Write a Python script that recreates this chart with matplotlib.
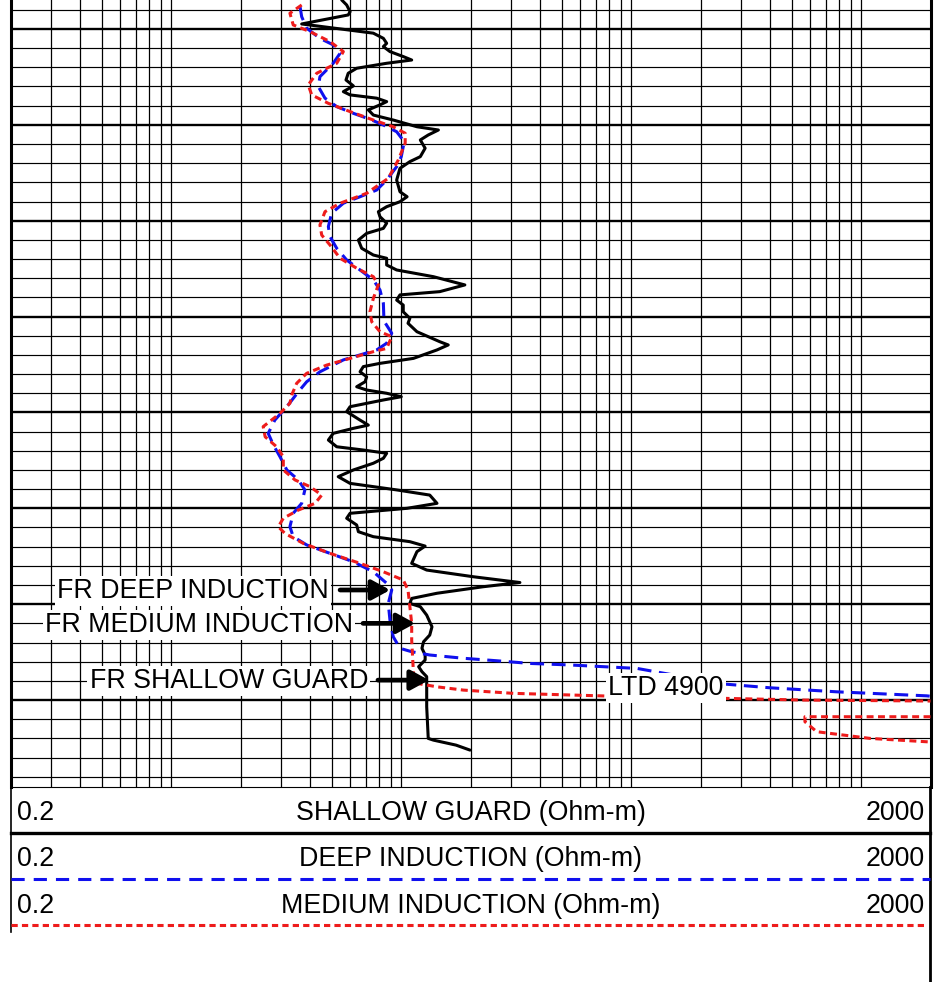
import matplotlib.pyplot as plt

plt.rcParams['font.family'] = ['Liberation Sans', 'DejaVu Sans']
plt.rcParams['lines.scale_dashes'] = False

# scale of the resistivity track (Ohm-m)
scale_left = 0.2
scale_right = 2000
depth_top = 4534.9
depth_bottom = 4945.5

# FR shallow guard (Ohm-m) against depth (ft)
sg_depth = [4534.9, 4537.5, 4541.0, 4542.7, 4547.4, 4552.2, 4554.9, 4557.5, 4559.2, 4561.8,
            4564.4, 4566.2, 4567.9, 4570.5, 4573.1, 4576.6, 4579.7, 4582.7, 4584.4, 4586.1,
            4587.9, 4589.6, 4592.2, 4594.9, 4597.5, 4601.0, 4602.7, 4605.3, 4607.9, 4612.2,
            4616.6, 4619.2, 4622.7, 4628.8, 4634.9, 4637.5, 4640.1, 4642.7, 4645.3, 4647.9,
            4651.3, 4654.0, 4656.6, 4660.1, 4664.4, 4667.9, 4669.6, 4673.1, 4675.7, 4679.2,
            4683.5, 4687.0, 4688.7, 4691.4, 4694.0, 4697.5, 4700.9, 4703.5, 4707.9, 4713.1,
            4714.8, 4717.4, 4721.8, 4724.4, 4726.1, 4728.8, 4731.4, 4734.0, 4736.6, 4738.3,
            4740.0, 4741.8, 4743.5, 4747.0, 4749.6, 4754.0, 4756.6, 4758.3, 4760.9, 4764.4,
            4767.9, 4769.6, 4771.3, 4773.9, 4776.5, 4780.0, 4783.5, 4787.0, 4790.4, 4793.1,
            4797.4, 4800.0, 4802.6, 4805.2, 4808.7, 4812.2, 4814.8, 4817.4, 4819.7, 4822.6,
            4828.7, 4832.2, 4835.7, 4838.7, 4840.9, 4844.3, 4847.0, 4849.6, 4851.3, 4855.7,
            4861.8, 4866.1, 4869.6, 4873.0, 4876.5, 4879.1, 4882.6, 4885.2, 4887.8, 4894.8,
            4903.5, 4920.0, 4920.9, 4923.5, 4926.1]
sg_res = [5.51, 5.79, 5.99, 5.88, 3.69, 7.56, 8.36, 8.64, 8.36, 8.93,
          10.2, 11.1, 8.64, 6.40, 5.88, 5.75, 6.19, 5.60, 5.99, 7.82,
          8.64, 8.08, 7.19, 7.56, 9.23, 11.7, 14.5, 13.1, 12.1, 12.7,
          12.1, 10.9, 9.87, 9.55, 9.87, 10.6, 9.87, 8.64, 7.95, 8.08,
          8.64, 8.36, 7.07, 6.51, 6.73, 7.56, 8.64, 8.64, 9.55, 13.8,
          18.9, 14.7, 9.87, 9.55, 10.2, 10.2, 10.9, 10.7, 11.7, 14.7,
          16.0, 14.3, 11.3, 8.08, 6.84, 6.62, 7.07, 6.96, 6.40, 7.07,
          8.64, 10.0, 8.36, 5.99, 5.79, 6.62, 7.19, 6.19, 5.06, 4.82,
          5.24, 6.84, 8.64, 8.36, 7.56, 6.19, 5.32, 5.99, 9.55, 13.3,
          14.3, 10.6, 5.99, 5.79, 6.40, 6.51, 7.56, 10.9, 12.7, 11.7,
          11.1, 12.9, 20.6, 32.8, 22.7, 14.3, 11.1, 10.9, 12.1, 12.9,
          13.6, 13.3, 12.5, 12.3, 12.7, 12.7, 11.9, 12.3, 12.9, 12.9,
          12.9, 13.1, 13.8, 17.3, 19.9]

# FR deep induction
di_depth = [4538.4, 4543.6, 4549.6, 4554.9, 4558.3, 4562.7, 4567.9, 4574.9, 4580.1, 4586.1,
            4590.5, 4594.0, 4597.1, 4600.1, 4603.6, 4608.8, 4616.6, 4621.8, 4628.8, 4634.0,
            4637.5, 4640.9, 4646.1, 4653.1, 4658.3, 4664.4, 4670.5, 4675.7, 4680.9, 4686.1,
            4693.1, 4702.3, 4708.7, 4713.9, 4717.4, 4722.6, 4728.8, 4734.0, 4739.2, 4747.0,
            4754.0, 4760.9, 4767.0, 4773.1, 4780.0, 4785.2, 4790.4, 4797.4, 4802.6, 4809.6,
            4814.8, 4819.1, 4823.5, 4827.9, 4833.1, 4839.1, 4842.6, 4849.6, 4858.3, 4867.0,
            4873.0, 4874.8, 4876.5, 4878.2, 4879.5, 4880.9, 4881.7, 4883.5, 4891.6, 4893.6,
            4895.7, 4897.8, 4898.0]
di_res = [3.63, 3.69, 3.88, 4.43, 5.06, 5.42, 5.06, 4.43, 4.36, 4.66,
          5.24, 6.19, 7.31, 8.36, 9.55, 10.3, 10.0, 9.55, 8.64, 7.82,
          6.62, 5.60, 4.98, 4.82, 4.90, 5.24, 5.79, 6.62, 7.56, 8.08,
          8.36, 8.41, 9.09, 8.64, 7.82, 5.60, 4.43, 3.88, 3.57, 3.18,
          2.82, 2.64, 2.78, 2.97, 3.18, 3.57, 3.81, 3.69, 3.39, 3.28,
          3.39, 3.88, 4.90, 6.19, 7.56, 8.64, 9.09, 8.78, 8.93, 9.23,
          9.87, 11.1, 13.3, 18.6, 26.0, 36.3, 54.2, 106, 251, 401,
          782, 1925, 2000]

# FR medium induction
mi_depth = [4537.5, 4541.8, 4547.9, 4551.4, 4556.6, 4561.8, 4567.9, 4573.1, 4579.2, 4584.4,
            4588.8, 4593.1, 4597.5, 4601.0, 4604.4, 4609.6, 4618.3, 4627.9, 4635.7, 4640.9,
            4645.3, 4652.2, 4657.5, 4662.7, 4669.6, 4674.8, 4679.2, 4683.5, 4690.5, 4697.5,
            4702.7, 4707.9, 4710.5, 4716.6, 4718.3, 4721.8, 4725.3, 4729.6, 4734.8, 4740.9,
            4745.2, 4750.5, 4757.4, 4762.7, 4767.9, 4773.1, 4780.0, 4785.2, 4788.7, 4793.1,
            4797.4, 4800.9, 4805.2, 4809.6, 4813.1, 4818.3, 4823.5, 4828.7, 4833.1, 4837.4,
            4842.6, 4851.3, 4860.0, 4868.7, 4877.4, 4886.1, 4891.3, 4893.1, 4894.8, 4896.5,
            4897.9, 4899.1, 4900.0, 4900.5, 4900.5]
mi_res = [3.69, 3.28, 3.39, 4.01, 4.90, 5.60, 5.24, 4.29, 3.94, 4.08,
          4.82, 5.99, 7.56, 9.23, 10.4, 10.4, 9.71, 8.78, 7.07, 5.42,
          4.66, 4.43, 4.51, 4.90, 5.42, 6.40, 7.56, 7.95, 7.56, 7.31,
          7.44, 8.08, 9.09, 8.64, 7.56, 5.99, 4.74, 3.88, 3.51, 3.34,
          3.28, 2.97, 2.51, 2.56, 2.87, 3.07, 3.07, 3.45, 4.01, 4.51,
          4.22, 3.57, 3.07, 2.92, 3.12, 3.75, 4.90, 6.62, 8.36, 10.2,
          10.7, 10.9, 11.1, 11.1, 11.2, 11.3, 11.7, 14.3, 18.6, 30.7,
          78.2, 251, 560, 1957, 2000]
# medium induction above 2000 Ohm-m, wrapped back into the track
mi_wrap_depth = [4908.7, 4908.7, 4911.3, 4916.5, 4920.0, 4921.8, 4922.0]
mi_wrap_res = [2000, 569, 569, 640, 1092, 1957, 2000]

header_labels = ['SHALLOW GUARD (Ohm-m)', 'DEEP INDUCTION (Ohm-m)', 'MEDIUM INDUCTION (Ohm-m)']

RED = '#ee1c1c'
BLUE = '#1010ee'
W, H = 939, 982
FS = 19.25

fig = plt.figure(figsize=(W / 100, H / 100), dpi=100)
ax = fig.add_axes([10.5 / W, 1 - 787.3 / H, 920 / W, 787.3 / H])
ax.set_xscale('log')
ax.set_xlim(scale_left, scale_right)
ax.set_ylim(depth_bottom, depth_top)
ax.set_xticks([])
ax.set_xticks([], minor=True)
ax.set_yticks([])
ax.spines['top'].set_visible(False)
ax.spines['bottom'].set_linewidth(0.8)
ax.spines['left'].set_linewidth(2.2)
ax.spines['right'].set_linewidth(2.2)

# log grid
for e in range(-1, 4):
    for m in range(1, 10):
        v = m * 10.0 ** e
        if scale_left < v < scale_right:
            ax.axvline(v, color='black', lw=0.9, zorder=1)
for d in range(4540, 4950, 10):
    ax.axhline(d, color='black', lw=1.7 if d % 50 == 0 else 0.85, zorder=1)

# curves
ax.plot(sg_res, sg_depth, color='black', lw=2.2, zorder=3,
        solid_joinstyle='round', solid_capstyle='round')
ax.plot(di_res, di_depth, color=BLUE, lw=2.2, dashes=(10, 5.5), zorder=3,
        dash_joinstyle='round')
ax.plot(mi_res, mi_depth, color=RED, lw=2.2, dashes=(5, 3.2), zorder=3,
        dash_joinstyle='round')
ax.plot(mi_wrap_res, mi_wrap_depth, color=RED, lw=2.2, dashes=(5, 3.2), zorder=3,
        dash_joinstyle='round')

box = dict(facecolor='white', edgecolor='none', pad=1.5)
arrow = dict(arrowstyle='-|>,head_length=0.55,head_width=0.3', color='black', lw=3.4,
             mutation_scale=20, shrinkA=0, shrinkB=0)

ax.text(4.85, 4846.9, 'FR DEEP INDUCTION', ha='right', va='baseline', fontsize=FS, bbox=box, zorder=5)
ax.annotate('', xy=(8.95, 4842.6), xytext=(5.42, 4842.6), arrowprops=arrow, zorder=6)

ax.text(6.17, 4864.4, 'FR MEDIUM INDUCTION', ha='right', va='baseline', fontsize=FS, bbox=box, zorder=5)
ax.annotate('', xy=(11.5, 4860.0), xytext=(6.82, 4860.0), arrowprops=arrow, zorder=6)

ax.text(7.17, 4893.9, 'FR SHALLOW GUARD', ha='right', va='baseline', fontsize=FS, bbox=box, zorder=5)
ax.annotate('', xy=(13.2, 4889.6), xytext=(7.92, 4889.6), arrowprops=arrow, zorder=6)

ax.text(79.5, 4897.4, 'LTD 4900', ha='left', va='baseline', fontsize=FS, bbox=box, zorder=5)

# header below the track, in pixel units
hdr = fig.add_axes([0, 0, 1, 1])
hdr.set_xlim(0, W)
hdr.set_ylim(H, 0)
hdr.axis('off')
hdr.plot([11, 11], [787, 932], color='black', lw=1.2)
hdr.plot([930, 930], [787, 982], color='black', lw=2.0)
hdr.plot([11, 930], [832.7, 832.7], color='black', lw=2.4)
hdr.plot([11, 930], [878.7, 878.7], color=BLUE, lw=2.2, dashes=(9.5, 6.5))
hdr.plot([11, 926], [925, 925], color=RED, lw=2.2, dashes=(4.5, 3.0))
for base, label in zip([820, 866, 912.7], header_labels):
    hdr.text(16.5, base, '{:g}'.format(scale_left), ha='left', va='baseline', fontsize=FS)
    hdr.text(470.5, base, label, ha='center', va='baseline', fontsize=FS)
    hdr.text(925, base, '{:g}'.format(scale_right), ha='right', va='baseline', fontsize=FS)

fig.savefig('out.png', dpi=100)
